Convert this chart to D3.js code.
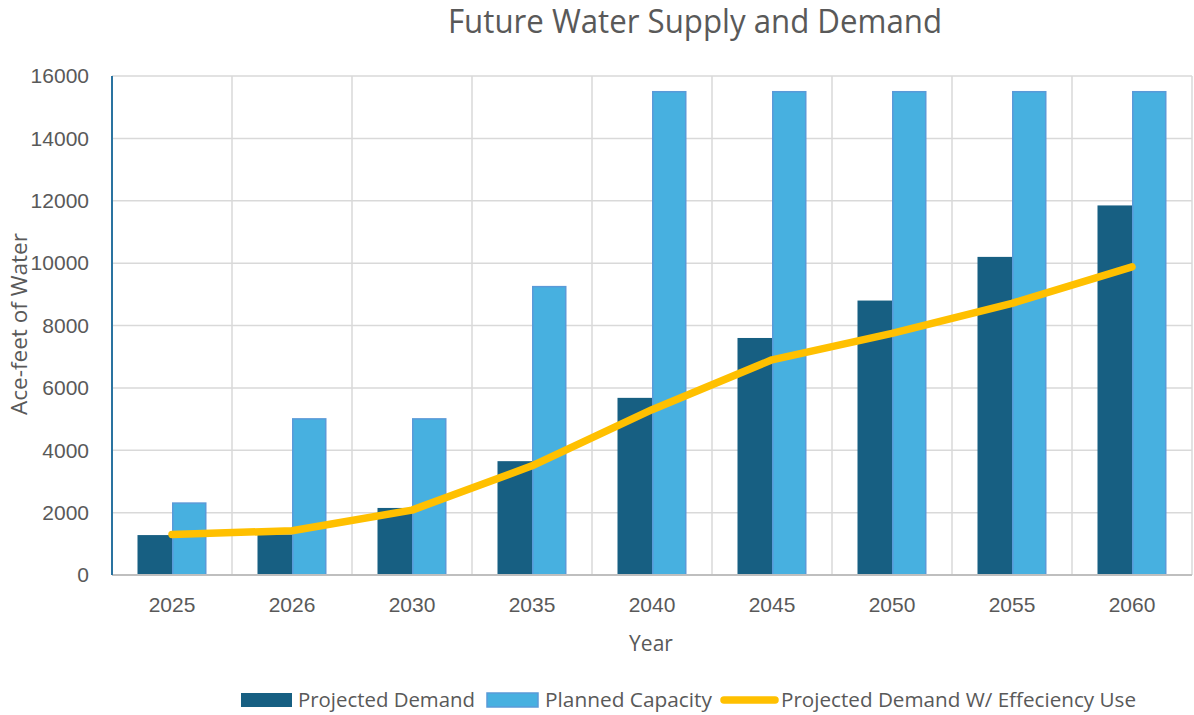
<!DOCTYPE html>
<html>
<head>
<meta charset="utf-8">
<script src="https://cdn.jsdelivr.net/npm/d3@7"></script>
<style>
  html, body { margin: 0; padding: 0; background: #fff; }
  svg { display: block; }
</style>
</head>
<body>
<svg id="chart" width="1194" height="715"></svg>
<script>
// Categories and series
const years = ["2025", "2026", "2030", "2035", "2040", "2045", "2050", "2055", "2060"];
const projectedDemand = [1280, 1300, 2150, 3650, 5680, 7600, 8800, 10200, 11850];
const plannedCapacity = [2330, 5030, 5030, 9270, 15520, 15520, 15520, 15520, 15520];
const efficiencyDemand = [1300, 1420, 2080, 3500, 5300, 6900, 7750, 8710, 9880];
const yTicks = [0, 2000, 4000, 6000, 8000, 10000, 12000, 14000, 16000];
const seriesNames = ["Projected Demand", "Planned Capacity", "Projected Demand W/ Effeciency Use"];

const svg = d3.select("#chart");
const plot = { left: 112, right: 1192, top: 76, bottom: 575 };
const font = "'Liberation Sans', Arial, sans-serif";
const titleFont = "'Open Sans', 'Noto Sans', sans-serif";

const x = d3.scaleBand().domain(years).range([plot.left, plot.right]).padding(0);
const sub = d3.scaleBand().domain(["demand", "capacity"])
  .range([25.5, x.bandwidth() - 25.5]).padding(0);
const y = d3.scaleLinear().domain([0, 16000]).range([plot.bottom, plot.top]);

// Horizontal gridlines
svg.append("g").selectAll("line").data(yTicks.filter(d => d > 0)).join("line")
  .attr("x1", plot.left).attr("x2", plot.right)
  .attr("y1", d => y(d)).attr("y2", d => y(d))
  .attr("stroke", "#d9d9d9").attr("stroke-width", 1.5);

// Vertical gridlines between categories
const bounds = years.map(d => x(d) + x.bandwidth());
svg.append("g").selectAll("line").data(bounds).join("line")
  .attr("x1", d => d).attr("x2", d => d)
  .attr("y1", plot.top).attr("y2", plot.bottom)
  .attr("stroke", "#d9d9d9").attr("stroke-width", 1.5);

// Bars
const groups = svg.append("g").selectAll("g").data(years).join("g")
  .attr("transform", d => `translate(${x(d)},0)`);

groups.append("rect")
  .attr("x", sub("demand"))
  .attr("width", sub.bandwidth())
  .attr("y", (d, i) => y(projectedDemand[i]))
  .attr("height", (d, i) => y(0) - y(projectedDemand[i]))
  .attr("fill", "#175f82");

groups.append("rect")
  .attr("x", sub("capacity") + 0.75)
  .attr("width", sub.bandwidth() - 1.5)
  .attr("y", (d, i) => y(plannedCapacity[i]) + 0.75)
  .attr("height", (d, i) => y(0) - y(plannedCapacity[i]) - 0.75)
  .attr("fill", "#47b0e0")
  .attr("stroke", "#5a9ad8").attr("stroke-width", 1.5);

// Axis lines
svg.append("line")
  .attr("x1", plot.left).attr("x2", plot.right)
  .attr("y1", plot.bottom).attr("y2", plot.bottom)
  .attr("stroke", "#bfbfbf").attr("stroke-width", 2);
svg.append("line")
  .attr("x1", plot.left).attr("x2", plot.left)
  .attr("y1", plot.top).attr("y2", plot.bottom)
  .attr("stroke", "#2a73a0").attr("stroke-width", 2);

// Efficiency line
const line = d3.line()
  .x((d, i) => x(years[i]) + x.bandwidth() / 2)
  .y(d => y(d));
svg.append("path")
  .datum(efficiencyDemand)
  .attr("d", line)
  .attr("fill", "none")
  .attr("stroke", "#ffc000").attr("stroke-width", 7.5)
  .attr("stroke-linecap", "round").attr("stroke-linejoin", "round");

// Y tick labels
svg.append("g").selectAll("text").data(yTicks).join("text")
  .attr("x", 89).attr("y", d => y(d))
  .attr("dy", "0.35em")
  .attr("text-anchor", "end")
  .attr("font-family", font).attr("font-size", 21)
  .attr("fill", "#595959")
  .text(d => d);

// X tick labels
svg.append("g").selectAll("text").data(years).join("text")
  .attr("x", d => x(d) + x.bandwidth() / 2).attr("y", 612)
  .attr("text-anchor", "middle")
  .attr("font-family", font).attr("font-size", 21)
  .attr("fill", "#595959")
  .text(d => d);

// Title
svg.append("text")
  .attr("x", 695).attr("y", 33)
  .attr("text-anchor", "middle")
  .attr("font-family", titleFont).attr("font-size", 32)
  .attr("fill", "#595959")
  .attr("textLength", 494).attr("lengthAdjust", "spacingAndGlyphs")
  .text("Future Water Supply and Demand");

// Axis titles
svg.append("text")
  .attr("x", 651).attr("y", 651)
  .attr("text-anchor", "middle")
  .attr("font-family", titleFont).attr("font-size", 21)
  .attr("fill", "#595959")
  .text("Year");

svg.append("text")
  .attr("transform", "translate(27,324) rotate(-90)")
  .attr("text-anchor", "middle")
  .attr("font-family", titleFont).attr("font-size", 21)
  .attr("fill", "#595959")
  .attr("textLength", 182).attr("lengthAdjust", "spacingAndGlyphs")
  .text("Ace-feet of Water");

// Legend
const legend = svg.append("g");
const legendItems = [
  { name: seriesNames[0], kind: "rect", fill: "#175f82", stroke: "none", sx: 241, tx: 298, tw: 177 },
  { name: seriesNames[1], kind: "rect", fill: "#47b0e0", stroke: "#5a9ad8", sx: 487, tx: 545, tw: 167 },
  { name: seriesNames[2], kind: "line", fill: "#ffc000", stroke: "none", sx: 721, tx: 781, tw: 355 }
];
legendItems.forEach(it => {
  if (it.kind === "rect") {
    legend.append("rect")
      .attr("x", it.sx).attr("y", 693).attr("width", 51).attr("height", 14)
      .attr("fill", it.fill)
      .attr("stroke", it.stroke).attr("stroke-width", it.stroke === "none" ? 0 : 1.5);
  } else {
    legend.append("line")
      .attr("x1", it.sx + 3).attr("x2", it.sx + 54)
      .attr("y1", 700).attr("y2", 700)
      .attr("stroke", it.fill).attr("stroke-width", 7.5)
      .attr("stroke-linecap", "round");
  }
  legend.append("text")
    .attr("x", it.tx).attr("y", 707)
    .attr("font-family", titleFont).attr("font-size", 20)
    .attr("fill", "#595959")
    .attr("textLength", it.tw).attr("lengthAdjust", "spacingAndGlyphs")
    .text(it.name);
});
</script>
</body>
</html>
